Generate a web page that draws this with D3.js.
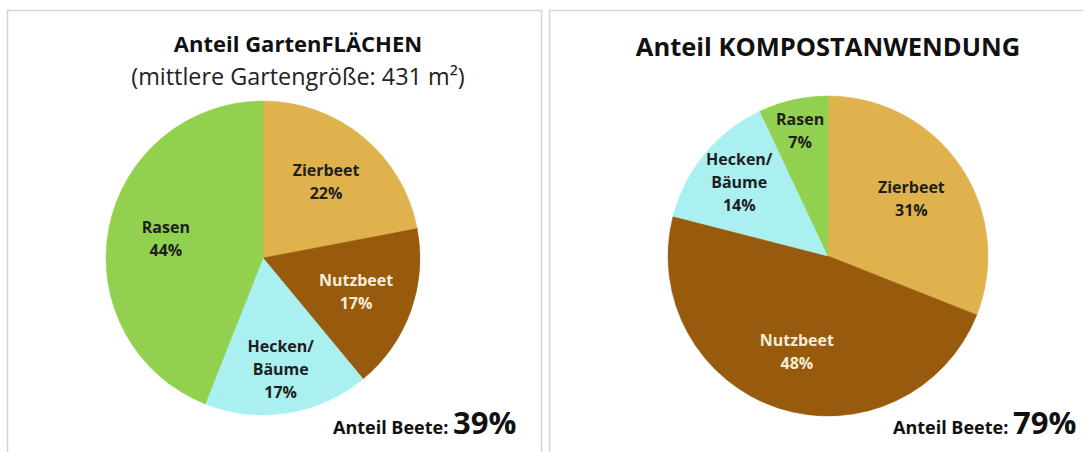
<!DOCTYPE html>
<html>
<head>
<meta charset="utf-8">
<script src="https://cdn.jsdelivr.net/npm/d3@7"></script>
<style>
  body { margin: 0; background: #fff; }
  svg { display: block; font-family: "Open Sans", Lato, sans-serif; }
</style>
</head>
<body>
<div id="chart"></div>
<script>
// categories in drawing order (clockwise from 12 o'clock)
const flaechenCats = ["Zierbeet", "Nutzbeet", "Hecken/\nBäume", "Rasen"];
const flaechenVals = [22, 17, 17, 44];
const kompostCats = ["Zierbeet", "Nutzbeet", "Hecken/\nBäume", "Rasen"];
const kompostVals = [31, 48, 14, 7];
const beeteShare = [39, 79];
const titles = ["Anteil GartenFLÄCHEN", "Anteil KOMPOSTANWENDUNG"];
const subtitles = ["(mittlere Gartengröße: 431 m²)", ""];

const W = 1083, H = 452;

const color = d3.scaleOrdinal()
  .domain(["Zierbeet", "Nutzbeet", "Hecken/\nBäume", "Rasen"])
  .range(["#dfb24e", "#985a0c", "#aaf0f0", "#92d050"]);
const textColor = d => d === "Nutzbeet" ? "#f6ecd8" : "#1e1e1e";

const svg = d3.select("#chart").append("svg")
  .attr("width", W)
  .attr("height", H);

// panel frames
const panels = [
  {x: 7.5, y: 10.5, w: 534, cx: 263, cy: 258, r: 157, tx: 298, tsize: 22},
  {x: 549.5, y: 10.5, w: 560, cx: 828, cy: 256, r: 160, tx: 828, tsize: 25.5}
];

function drawPanel(p, i, cats, vals) {
  svg.append("rect")
    .attr("x", p.x).attr("y", p.y)
    .attr("width", p.w).attr("height", H)
    .attr("fill", "#fff")
    .attr("stroke", "#d4d4d4")
    .attr("stroke-width", 1.5);

  const g = svg.append("g")
    .attr("transform", "translate(" + p.cx + "," + p.cy + ")");

  const data = cats.map((c, j) => ({name: c, value: vals[j]}));
  const pie = d3.pie().sort(null).value(d => d.value);
  const arc = d3.arc().innerRadius(0).outerRadius(p.r);
  const arcs = pie(data);

  g.selectAll("path")
    .data(arcs)
    .enter().append("path")
      .attr("d", arc)
      .attr("fill", d => color(d.data.name))
      .attr("stroke", d => color(d.data.name))
      .attr("stroke-width", 0.5);

  // label radius: small slices pushed out, 3-line labels a bit further
  const labels = g.selectAll(".lbl")
    .data(arcs)
    .enter().append("text")
      .attr("class", "lbl")
      .attr("text-anchor", "middle")
      .attr("font-weight", "bold")
      .attr("font-size", 16)
      .attr("fill", d => textColor(d.data.name))
      .attr("transform", d => {
        const lines = d.data.name.split("\n").length + 1;
        let k = lines > 2 ? 0.72 : 0.63;
        if (d.data.value < 10) k = 0.8;
        const la = d3.arc().innerRadius(p.r * k).outerRadius(p.r * k);
        const c = la.centroid(d);
        return "translate(" + c[0] + "," + c[1] + ")";
      });

  labels.each(function(d) {
    const lines = d.data.name.split("\n").concat([d.data.value + "%"]);
    const t = d3.select(this);
    const lh = 23;
    lines.forEach((l, k) => {
      t.append("tspan")
        .attr("x", 0)
        .attr("y", (k - (lines.length - 1) / 2) * lh + 5.5)
        .text(l);
    });
  });

  svg.append("text")
    .attr("x", p.tx).attr("y", i === 0 ? 52 : 56)
    .attr("text-anchor", "middle")
    .attr("font-weight", "bold")
    .attr("font-size", p.tsize)
    .attr("fill", "#111")
    .text(titles[i]);

  if (subtitles[i]) {
    svg.append("text")
      .attr("x", p.tx).attr("y", 85)
      .attr("text-anchor", "middle")
      .attr("font-size", 23.4)
      .attr("fill", "#222")
      .text(subtitles[i]);
  }

  const bt = svg.append("text")
    .attr("x", i === 0 ? 333 : 893)
    .attr("y", 434)
    .attr("fill", "#111")
    .attr("font-weight", "bold");
  bt.append("tspan").attr("font-size", 18).text("Anteil Beete: ");
  bt.append("tspan").attr("font-size", 31).text(beeteShare[i] + "%");
}

drawPanel(panels[0], 0, flaechenCats, flaechenVals);
drawPanel(panels[1], 1, kompostCats, kompostVals);
</script>
</body>
</html>
